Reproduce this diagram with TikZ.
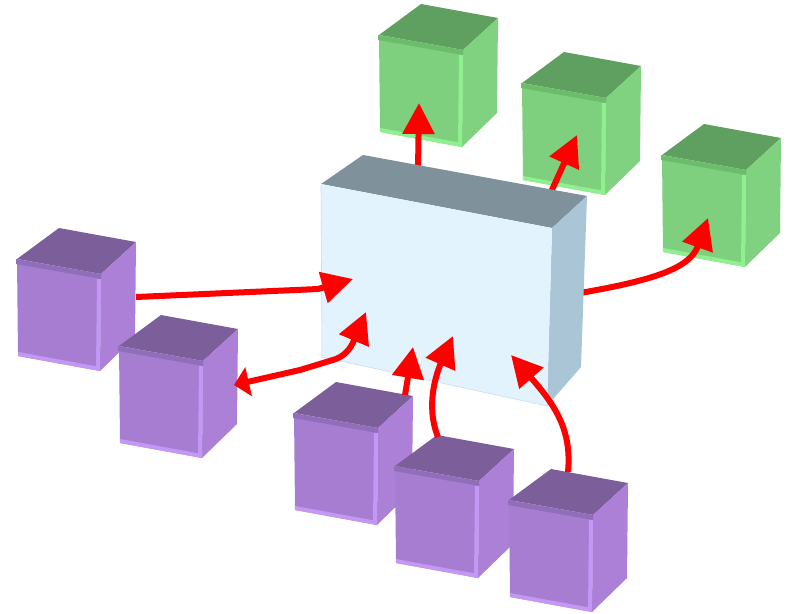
\documentclass[tikz,border=0pt]{standalone}
\usetikzlibrary{arrows.meta}

% colour families: g = green cubes, p = purple cubes
\definecolor{gtop}{RGB}{95,159,95}
\definecolor{gside}{RGB}{128,210,128}
\definecolor{gfront}{RGB}{126,208,126}
\definecolor{gbevel}{RGB}{108,188,108}
\definecolor{glight}{RGB}{144,240,144}
\definecolor{ptop}{RGB}{124,94,155}
\definecolor{pside}{RGB}{171,128,214}
\definecolor{pfront}{RGB}{167,125,210}
\definecolor{pbevel}{RGB}{145,110,185}
\definecolor{plight}{RGB}{195,152,245}
\definecolor{boxtop}{RGB}{127,145,155}
\definecolor{boxside}{RGB}{170,198,214}
\definecolor{boxfront}{RGB}{226,243,253}
\definecolor{boxedge}{RGB}{200,222,236}
\definecolor{flowred}{RGB}{255,0,0}

% small cube with its front-top-left corner at (#1,#2), colour family #3
\newcommand\blockcube[3]{%
  \begin{scope}[shift={(#1,#2)}]
    \fill[#3top] (0,0) -- (42,-31) -- (119,-17) -- (84,15) -- cycle;
    \fill[#3side] (84,15) -- (119,-17) -- (118,78) -- (83,112) -- cycle;
    \fill[#3front] (0,0) -- (84,15) -- (83,112) -- (1,97) -- cycle;
    \fill[#3bevel] (-1,0) -- (84,15) -- (84,20) -- (-1,5) -- cycle;
    \fill[#3light] (1,93) -- (83,108) -- (83,112) -- (1,97) -- cycle;
    \fill[#3light] (80,20) -- (84,20) -- (83,112) -- (79,111) -- cycle;
  \end{scope}}

\tikzset{
  flow/.style={draw=flowred, line width=6pt, line join=round,
    -{Triangle[length=31pt,width=31pt]}},
  flowboth/.style={draw=flowred, line width=6pt, line join=round,
    {Triangle[length=15pt,width=29pt]}-{Triangle[length=31pt,width=31pt]}}
}

\begin{document}
\begin{tikzpicture}[x=1pt,y=-1pt]
  \useasboundingbox (0,0) rectangle (791,613);

  % output cubes
  \blockcube{379}{35}{g}
  \blockcube{522}{83}{g}
  \blockcube{662}{155}{g}

  % end points of the connectors
  \coordinate (o1s) at (418,170);
  \coordinate (o1t) at (419,103);
  \coordinate (o2s) at (551,192);
  \coordinate (o2t) at (577,135);
  \coordinate (o3s) at (580,293);
  \coordinate (o3t) at (708,218);

  % outgoing connectors, starting behind the central block
  \draw[flow] (o1s) -- (o1t);
  \draw[flow] (o2s) -- (o2t);
  \draw[flow] (o3s) .. controls (655,280) and (690,268) .. (o3t);

  % central block
  \fill[boxtop] (321,184) -- (363,155) -- (587,196) -- (552,228) -- cycle;
  \fill[boxside] (552,228) -- (587,196) -- (581,367) -- (547,406) -- cycle;
  \fill[boxfront] (321,184) -- (552,228) -- (547,406) -- (322,357) -- cycle;
  \draw[boxedge, line width=0.6pt] (321,186) -- (322,357) -- (547,406);

  % input cubes
  \blockcube{17}{259}{p}
  \blockcube{119}{346}{p}
  \blockcube{294}{413}{p}
  \blockcube{395}{466}{p}
  \blockcube{509}{500}{p}

  \coordinate (i1s) at (136,297);
  \coordinate (i1t) at (353,279);
  \coordinate (i2s) at (234,385);
  \coordinate (i2t) at (366,312);
  \coordinate (i3s) at (405,395);
  \coordinate (i3t) at (413,347);
  \coordinate (i4s) at (438,437);
  \coordinate (i4t) at (453,336);
  \coordinate (i5s) at (568,472);
  \coordinate (i5t) at (511,355);

  % incoming connectors
  \draw[flow] (i1s) -- (318,289) -- (i1t);
  \draw[flowboth] (i2s) -- (300,370) -- (336,359)
    .. controls (348,354) and (352,345) .. (i2t);
  \draw[flow] (i3s) -- (i3t);
  \draw[flow] (i4s) .. controls (425,405) and (437,372) .. (i4t);
  \draw[flow] (i5s) .. controls (572,430) and (555,405) .. (i5t);
\end{tikzpicture}
\end{document}
